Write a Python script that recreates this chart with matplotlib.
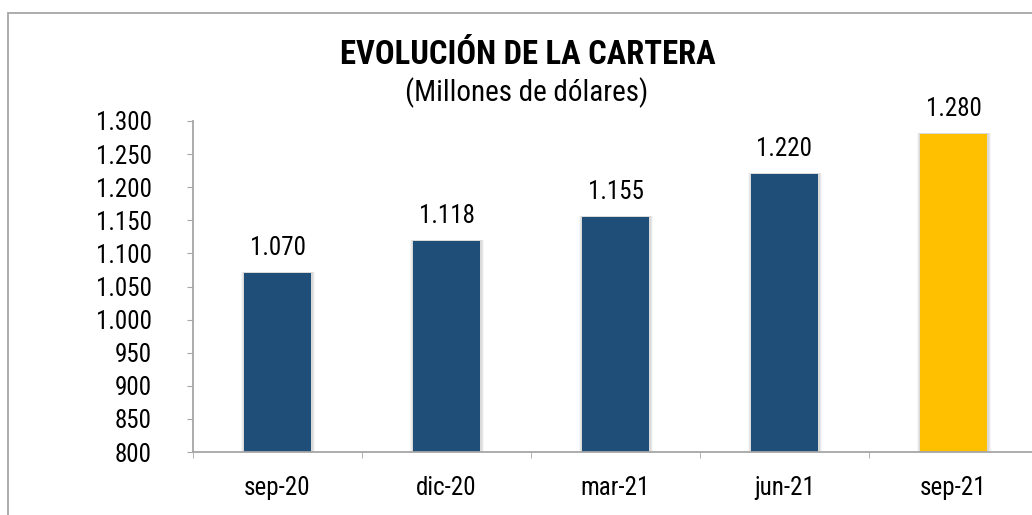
import matplotlib
matplotlib.use("Agg")
import matplotlib.pyplot as plt
from matplotlib.patches import Rectangle
from matplotlib.ticker import FuncFormatter, FixedLocator

categories = ["sep-20", "dic-20", "mar-21", "jun-21", "sep-21"]
values = [1070, 1118, 1155, 1220, 1280]
bar_colors = ["#1F4E79", "#1F4E79", "#1F4E79", "#1F4E79", "#FFC000"]
title = "EVOLUCIÓN DE LA CARTERA"
subtitle = "(Millones de dólares)"

FONT = ["Roboto Condensed", "Liberation Sans", "DejaVu Sans"]
plt.rcParams["font.family"] = FONT

def fmt(v, pos=None):
    return f"{int(v):,}".replace(",", ".")

fig = plt.figure(figsize=(10.32, 5.15), dpi=100)
# figure frame
fig.patches.append(Rectangle((8/1032, -0.1), 1.2, 1 - 13/515 + 0.1, transform=fig.transFigure,
                             fill=False, edgecolor="#A6A6A6", linewidth=1.3))

ax = fig.add_axes([193/1032, 1 - 452/515, 845/1032, (452 - 121)/515])
x = list(range(len(categories)))

# soft shadows
for xi, v in zip(x, values):
    for k, a in enumerate([0.06, 0.05, 0.04]):
        d = 0.006 * (k + 1)
        ax.add_patch(Rectangle((xi - 0.2 - d, 800), 0.4 + 2 * d + 0.004, v - 800 + 2,
                               facecolor="black", alpha=a, edgecolor="none", zorder=1))
ax.bar(x, [v - 800 for v in values], bottom=800, width=0.4, color=bar_colors, zorder=2)

for xi, v in zip(x, values):
    ax.text(xi, v + 20, fmt(v), ha="center", va="bottom", fontsize=18, color="#000000")

ax.set_ylim(800, 1300)
ax.set_xlim(-0.5, 4.5)
ax.set_yticks(range(800, 1301, 50))
ax.yaxis.set_major_formatter(FuncFormatter(fmt))
ax.set_xticks(x)
ax.set_xticklabels(categories)
ax.xaxis.set_minor_locator(FixedLocator([i - 0.5 for i in range(len(categories) + 1)]))
ax.tick_params(axis="x", which="major", length=0, pad=17, labelsize=18)
ax.tick_params(axis="x", which="minor", length=4.5, color="#A6A6A6", direction="out")
ax.tick_params(axis="y", length=4.5, color="#A6A6A6", labelsize=18, pad=25)
for s in ["top", "right"]:
    ax.spines[s].set_visible(False)
for s in ["left", "bottom"]:
    ax.spines[s].set_color("#A6A6A6")
    ax.spines[s].set_linewidth(1.3)
ax.set_facecolor("none")

fig.text(528/1032, 1 - 55/515, title, ha="center", va="center", fontsize=23.5, fontweight="bold")
fig.text(527/1032, 1 - 93/515, subtitle, ha="center", va="center", fontsize=21)

fig.savefig("out.png", dpi=100, facecolor="white")
